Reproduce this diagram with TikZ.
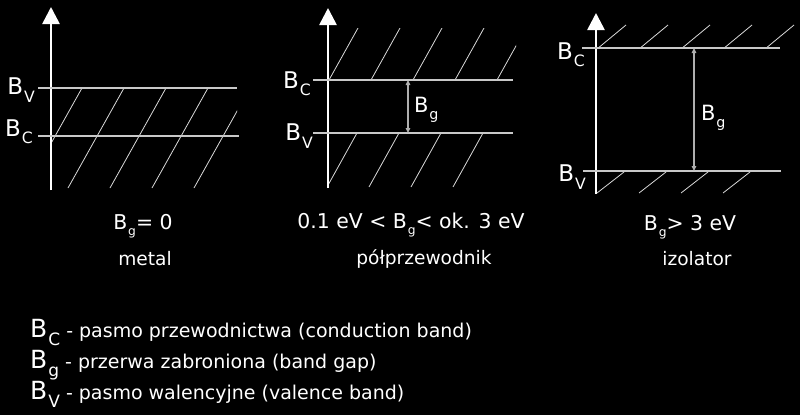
\documentclass[tikz,border=0pt]{standalone}
\usepackage{fontspec}
\setmainfont{DejaVu Sans}
\usetikzlibrary{arrows.meta}

\definecolor{bandgray}{RGB}{200,200,200}
\definecolor{gapgray}{RGB}{175,175,175}

% B with a lowered subscript
\newcommand\bandsym[2][.68]{B\kern.04em\raisebox{-.32em}{\scalebox{#1}{#2}}}

\tikzset{
  axisline/.style={white, line width=2.6pt, -{Triangle[length=17pt,width=17pt]}},
  bandline/.style={bandgray, line width=1.6pt},
  hatchline/.style={white!85!black, line width=0.8pt},
  gaparrow/.style={gapgray, line width=1.1pt, {Triangle[length=5pt,width=4.5pt]}-{Triangle[length=5pt,width=4.5pt]}},
  bandlabel/.style={white, font=\fontsize{23}{25}\selectfont, inner sep=0pt},
  gaplabel/.style={white, anchor=west, inner sep=0pt, font=\fontsize{21}{23}\selectfont},
  caption/.style={white, font=\fontsize{20.4}{22}\selectfont, inner sep=0pt},
  kindname/.style={white, font=\fontsize{18.6}{21}\selectfont, inner sep=0pt},
  legend/.style={white, anchor=base west, inner sep=0pt, font=\fontsize{19}{21}\selectfont}
}

\begin{document}
\begin{tikzpicture}[x=1pt, y=-1pt]
\fill[black] (0,0) rectangle (800,415);
\useasboundingbox (0,0) rectangle (800,415);

% metal
\begin{scope}
  \clip (52,88) rectangle (237,188);
  \foreach \k in {0,...,4}
    \draw[hatchline] (82+42*\k,88) -- (26+42*\k,188);
\end{scope}
\coordinate (m0) at (51,190);
\coordinate (m1) at (51,7);
\draw[axisline] (m0) -- (m1);
\coordinate (mv0) at (38,88);  \coordinate (mv1) at (237,88);
\coordinate (mc0) at (38,136); \coordinate (mc1) at (239,136);
\draw[bandline] (mv0) -- (mv1);
\draw[bandline] (mc0) -- (mc1);
\node[bandlabel, anchor=east] (mvlab) at (35,90) {\bandsym{V}};
\node[bandlabel, anchor=east] (mclab) at (33,132) {\bandsym{C}};

% semiconductor
\begin{scope}
  \clip (328,28) rectangle (516,80);
  \foreach \k in {0,...,4}
    \draw[hatchline] (329+42*\k,80) -- (358+42*\k,28);
\end{scope}
\begin{scope}
  \clip (328,133) rectangle (516,187);
  \foreach \k in {0,...,3}
    \draw[hatchline] (357+42*\k,133) -- (327+42*\k,187);
\end{scope}
\coordinate (s0) at (328,188);
\coordinate (s1) at (328,8);
\draw[axisline] (s0) -- (s1);
\coordinate (sc0) at (313,80);  \coordinate (sc1) at (513,80);
\coordinate (sv0) at (313,133); \coordinate (sv1) at (513,133);
\draw[bandline] (sc0) -- (sc1);
\draw[bandline] (sv0) -- (sv1);
\coordinate (sg0) at (408,80);  \coordinate (sg1) at (408,133);
\draw[gaparrow] (sg0) -- (sg1);
\node[bandlabel, anchor=east] (sclab) at (311,84) {\bandsym{C}};
\node[bandlabel, anchor=east] (svlab) at (313,136) {\bandsym{V}};
\node[gaplabel] (sglab) at (414,110) {\bandsym{g}};

% insulator
\begin{scope}
  \clip (597,20) rectangle (800,48);
  \foreach \k in {0,...,4}
    \draw[hatchline] (597+42*\k,49) -- (626+42*\k,25);
\end{scope}
\begin{scope}
  \clip (597,171) rectangle (800,194);
  \foreach \k in {0,...,3}
    \draw[hatchline] (624+42*\k,172) -- (597+42*\k,193);
\end{scope}
\coordinate (i0) at (596,194);
\coordinate (i1) at (596,13);
\draw[axisline] (i0) -- (i1);
\coordinate (ic0) at (582,48);  \coordinate (ic1) at (780,48);
\coordinate (iv0) at (583,171); \coordinate (iv1) at (781,171);
\draw[bandline] (ic0) -- (ic1);
\draw[bandline] (iv0) -- (iv1);
\coordinate (ig0) at (694,48);  \coordinate (ig1) at (694,171);
\draw[gaparrow] (ig0) -- (ig1);
\node[bandlabel, anchor=east] (iclab) at (585,55) {\bandsym{C}};
\node[bandlabel, anchor=east] (ivlab) at (586,177) {\bandsym{V}};
\node[gaplabel] (iglab) at (701,118) {\bandsym{g}};

% captions
\node[caption] (mcap) at (143,226) {\bandsym[.6]{g}= 0};
\node[kindname] (mname) at (145,259) {metal};
\node[caption] (scap) at (411,225) {0.1 eV < \bandsym[.6]{g}< ok. 3 eV};
\node[kindname] (sname) at (424,259) {półprzewodnik};
\node[caption] (icap) at (690,227) {\bandsym[.6]{g}> 3 eV};
\node[kindname] (iname) at (697,259) {izolator};

% legend
\node[legend] (lc) at (30,337) {{\fontsize{25}{27}\selectfont\bandsym{C}} - pasmo przewodnictwa (conduction band)};
\node[legend] (lg) at (30,368) {{\fontsize{25}{27}\selectfont\bandsym{g}} - przerwa zabroniona (band gap)};
\node[legend] (lv) at (30,399) {{\fontsize{25}{27}\selectfont\bandsym{V}} - pasmo walencyjne (valence band)};
\end{tikzpicture}
\end{document}
